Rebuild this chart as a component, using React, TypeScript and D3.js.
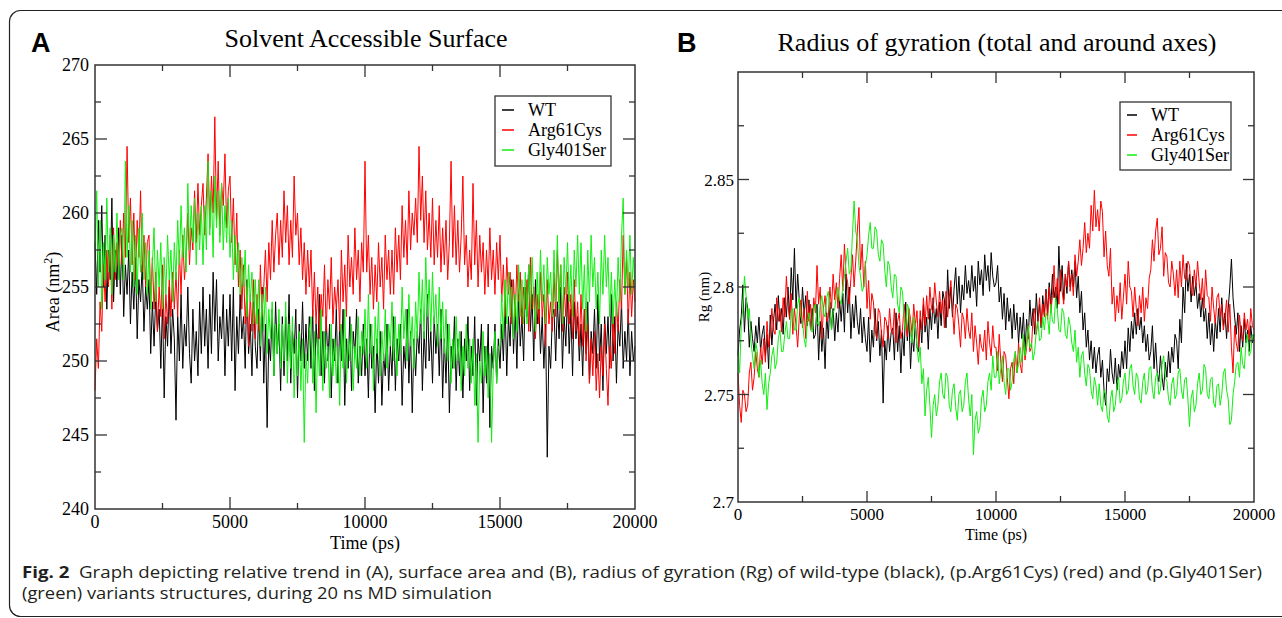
import * as d3 from "d3";
import { useEffect, useRef } from "react";

// simulation length (ps); samples are evenly spaced over it
const SIM_END_PS = 20000;

// Panel A: solvent accessible surface (nm^2)
const SASA_WT = [
  258.0, 254.5, 259.5, 256.0, 260.5, 255.0, 258.5, 253.5, 257.5, 255.5, 261.0, 254.0, 257.5, 255.0, 259.0, 254.5,
  258.5, 253.0, 256.5, 254.5, 257.5, 252.5, 256.0, 253.5, 257.0, 251.5, 255.5, 254.0, 256.5, 252.0, 255.0, 253.5,
  255.5, 250.5, 254.0, 251.0, 254.5, 252.0, 253.5, 249.5, 254.0, 247.5, 253.0, 251.0, 255.0, 250.5, 253.5, 251.5,
  246.0, 253.0, 250.0, 254.5, 249.5, 252.5, 251.0, 255.0, 250.5, 248.5, 253.5, 250.0, 252.0, 249.0, 254.0, 250.5,
  255.0, 251.0, 253.5, 249.5, 254.5, 250.5, 256.0, 252.0, 255.5, 250.0, 253.0, 251.5, 254.5, 249.0, 253.5, 251.0,
  254.5, 250.0, 255.0, 248.0, 253.0, 250.5, 254.5, 251.5, 253.0, 249.5, 255.5, 250.5, 252.5, 249.0, 254.0, 251.0,
  249.5, 253.5, 250.0, 255.0, 248.5, 252.5, 245.5, 251.5, 250.0, 253.5, 249.0, 254.0, 250.5, 252.5, 248.0, 253.0,
  249.0, 253.0, 250.0, 254.5, 248.5, 252.0, 250.5, 253.5, 247.5, 252.5, 250.0, 254.0, 249.5, 252.5, 250.0, 253.0,
  249.5, 253.5, 248.0, 252.5, 250.5, 254.5, 249.0, 252.0, 248.5, 253.0, 250.0, 252.5, 247.5, 251.5, 250.0, 253.5,
  248.5, 252.5, 250.0, 253.5, 247.0, 251.5, 249.5, 253.0, 248.0, 252.0, 250.5, 253.5, 248.5, 251.0, 249.0, 252.5,
  249.0, 251.5, 247.5, 252.5, 249.5, 251.0, 246.5, 251.5, 248.5, 252.0, 247.0, 250.5, 249.0, 252.5, 248.0, 251.0,
  249.0, 253.0, 248.0, 251.5, 250.0, 252.5, 247.0, 251.0, 249.5, 253.5, 248.5, 252.0, 246.5, 251.5, 249.0, 252.0,
  250.5, 253.5, 248.0, 252.0, 249.5, 254.5, 250.0, 252.0, 248.5, 253.0, 250.5, 252.5, 249.0, 253.5, 247.5, 251.5,
  248.5, 252.5, 246.5, 251.0, 249.5, 253.0, 248.0, 251.5, 249.0, 252.0, 247.5, 251.5, 250.0, 253.0, 248.0, 251.0,
  249.0, 253.0, 247.0, 251.5, 250.0, 252.5, 246.5, 251.0, 248.5, 252.5, 245.5, 251.0, 249.5, 252.5, 248.5, 251.5,
  249.5, 252.5, 250.0, 254.0, 249.0, 253.0, 251.0, 255.5, 250.5, 253.5, 249.5, 254.5, 251.0, 253.0, 250.0, 255.0,
  253.0, 256.5, 252.0, 254.5, 250.0, 255.5, 252.5, 254.0, 250.5, 253.0, 249.5, 252.5, 243.5, 251.0, 249.5, 253.0,
  253.5, 250.0, 254.0, 251.5, 255.0, 249.5, 253.0, 251.0, 254.5, 250.5, 253.5, 249.0, 254.0, 251.5, 253.0, 250.0,
  252.5, 249.0, 253.5, 250.5, 254.0, 248.5, 252.0, 250.5, 253.5, 249.5, 254.5, 250.0, 252.5, 248.0, 253.0, 250.5,
  253.0, 249.5, 254.5, 250.0, 253.0, 248.5, 252.5, 251.0, 254.0, 249.5, 252.0, 250.0, 253.5, 249.0, 252.0, 250.0,
  251.0,
];
const SASA_R61C = [
  248.0, 251.5, 249.5, 254.0, 252.0, 256.5, 254.0, 257.5, 255.0, 258.5, 253.5, 259.0, 255.5, 258.0, 256.0, 259.5,
  256.5, 260.0, 257.0, 264.5, 258.0, 261.0, 256.5, 260.0, 255.5, 259.5, 257.0, 261.5, 256.0, 258.5, 255.0, 258.0,
  258.5, 254.0, 257.0, 253.5, 256.0, 252.0, 255.0, 253.0, 256.5, 251.5, 254.5, 252.5, 255.5, 253.0, 256.0, 253.5,
  256.0, 253.0, 257.5, 254.5, 258.5, 255.5, 257.0, 260.0, 256.5, 259.0, 257.5, 261.5, 258.0, 262.0, 258.5, 260.5,
  262.0, 258.5, 261.0, 264.0, 259.0, 262.5, 260.0, 266.5, 259.5, 263.5, 258.5, 262.0, 260.5, 264.0, 259.0, 261.5,
  262.5, 258.0, 261.0, 256.5, 260.0, 255.0, 257.5, 253.5, 256.5, 252.5, 255.0, 251.0, 254.5, 252.0, 255.5, 251.5,
  254.5, 252.0, 256.5, 253.0, 255.0, 257.5, 254.0, 258.0, 255.5, 259.5, 256.0, 258.5, 260.0, 256.5, 259.5, 257.0,
  261.5, 258.0, 260.5, 256.5, 259.5, 257.0, 262.5, 258.5, 260.0, 256.5, 259.0, 255.5, 258.0, 254.5, 257.5, 255.0,
  257.5, 253.0, 256.0, 252.5, 255.0, 251.5, 254.5, 253.0, 256.5, 252.0, 255.5, 253.5, 257.0, 252.5, 255.0, 253.5,
  255.5, 252.0, 257.5, 254.0, 256.5, 253.0, 258.5, 255.0, 257.0, 254.5, 259.0, 255.5, 257.5, 254.0, 258.0, 256.0,
  263.5, 256.0, 258.5, 254.5, 257.0, 253.5, 256.5, 254.0, 258.0, 255.0, 257.0, 253.5, 258.5, 255.5, 257.5, 254.5,
  257.5, 254.5, 259.0, 256.0, 258.5, 255.5, 260.5, 257.0, 259.5, 256.5, 261.5, 257.5, 260.0, 258.5, 261.0, 258.0,
  264.5, 259.5, 262.5, 258.0, 261.5, 257.5, 260.0, 257.0, 261.0, 256.5, 259.5, 257.0, 260.5, 256.0, 259.0, 256.5,
  259.5, 255.5, 258.0, 263.5, 257.0, 260.5, 256.5, 259.5, 256.0, 258.5, 262.5, 256.5, 258.5, 255.0, 257.5, 255.5,
  262.0, 256.5, 259.5, 255.0, 258.5, 256.0, 258.0, 254.5, 257.5, 255.0, 259.0, 255.5, 257.5, 254.5, 258.0, 255.5,
  258.5, 254.0, 256.5, 253.0, 257.0, 254.5, 256.0, 252.5, 255.5, 253.0, 256.5, 254.0, 256.0, 252.5, 255.0, 253.5,
  255.5, 252.0, 257.0, 253.5, 255.0, 251.5, 254.5, 252.5, 256.0, 253.0, 254.5, 251.0, 255.5, 252.5, 254.0, 252.0,
  256.0, 253.0, 257.5, 254.0, 256.5, 252.0, 255.0, 253.0, 256.0, 252.5, 254.5, 251.5, 255.5, 252.0, 254.0, 251.0,
  254.5, 251.0, 253.5, 250.0, 252.5, 248.5, 251.5, 249.0, 252.0, 248.0, 250.5, 247.5, 251.0, 249.0, 252.5, 249.5,
  247.0, 251.0, 249.5, 253.0, 250.5, 254.0, 252.0, 255.5, 253.5, 258.5, 254.5, 257.0, 252.5, 256.0, 253.0, 255.5,
  254.0,
];
const SASA_G401S = [
  257.5, 261.5, 255.0, 259.5, 253.5, 258.0, 255.5, 261.0, 256.0, 259.0, 254.5, 258.5, 256.0, 260.0, 255.5, 258.5,
  259.0, 255.5, 263.5, 257.0, 260.5, 256.0, 259.5, 255.0, 258.5, 254.5, 259.0, 256.0, 260.0, 255.5, 258.0, 254.5,
  257.5, 253.5, 256.5, 259.0, 254.0, 257.5, 255.0, 258.0, 253.5, 257.0, 254.5, 258.5, 255.5, 257.5, 254.0, 258.0,
  255.5, 259.5, 256.5, 260.5, 257.0, 259.0, 256.0, 262.0, 257.5, 260.5, 258.0, 261.0, 256.5, 260.0, 257.5, 260.5,
  256.5, 260.5, 257.5, 263.5, 258.5, 261.5, 257.0, 262.5, 259.0, 261.5, 258.0, 262.0, 257.5, 260.5, 258.0, 261.0,
  257.0, 259.5, 255.5, 258.5, 256.0, 258.0, 254.5, 257.0, 255.0, 257.5, 253.0, 256.5, 254.0, 256.0, 252.5, 255.5,
  252.5, 255.5, 251.0, 254.5, 252.0, 255.0, 250.5, 253.5, 251.5, 254.0, 249.0, 252.5, 250.5, 253.5, 249.5, 252.5,
  250.0, 254.0, 248.5, 252.5, 249.5, 253.0, 247.5, 251.5, 249.0, 252.0, 248.0, 251.5, 244.5, 250.5, 248.5, 252.0,
  253.0, 248.5, 252.0, 246.5, 251.5, 249.0, 253.5, 248.0, 252.0, 249.5, 251.0, 247.5, 252.5, 249.0, 251.5, 248.5,
  251.0, 247.0, 252.5, 249.5, 253.5, 248.5, 251.5, 250.0, 252.5, 248.0, 251.0, 249.5, 253.0, 249.0, 252.0, 250.5,
  253.5, 249.5, 254.5, 250.5, 252.5, 248.0, 253.0, 250.5, 254.0, 249.0, 252.0, 250.0, 253.5, 249.5, 252.5, 251.0,
  254.0, 250.0, 253.0, 249.0, 252.5, 250.5, 255.0, 251.5, 253.5, 250.0, 254.5, 251.0, 253.0, 249.5, 254.0, 251.5,
  256.0, 252.5, 255.5, 251.5, 257.0, 253.0, 255.5, 252.0, 256.0, 252.5, 254.5, 251.0, 255.0, 251.5, 254.0, 250.5,
  253.5, 250.0, 252.5, 248.5, 251.5, 249.5, 253.0, 250.0, 252.0, 248.0, 251.0, 249.0, 252.5, 249.5, 251.5, 248.5,
  251.5, 247.0, 250.5, 244.5, 250.0, 248.5, 252.0, 249.0, 251.0, 247.5, 250.5, 244.5, 249.5, 252.0, 248.5, 251.0,
  251.0, 254.5, 251.5, 255.5, 252.5, 256.0, 253.0, 255.0, 251.5, 254.5, 252.0, 256.5, 253.0, 255.5, 252.5, 256.0,
  252.5, 256.5, 253.5, 257.0, 254.0, 252.0, 256.0, 253.5, 257.5, 254.0, 256.5, 252.5, 257.0, 254.5, 256.0, 253.0,
  257.5, 254.0, 258.5, 253.5, 256.5, 252.5, 257.0, 254.5, 258.0, 254.0, 256.5, 253.0, 257.5, 255.0, 258.5, 254.5,
  258.0, 253.5, 256.5, 252.0, 257.5, 254.0, 258.5, 255.0, 257.0, 253.5, 256.0, 252.5, 257.5, 254.5, 258.5, 255.0,
  257.0, 253.0, 256.0, 252.5, 255.5, 253.0, 257.0, 254.0, 258.5, 261.0, 254.5, 257.5, 255.0, 258.5, 254.5, 257.0,
  255.0,
];

// Panel B: radius of gyration (nm)
const RG_WT = [
  2.768, 2.780, 2.786, 2.801, 2.779, 2.795, 2.790, 2.772, 2.784, 2.776, 2.770, 2.782, 2.774, 2.786, 2.770, 2.778,
  2.782, 2.768, 2.778, 2.762, 2.787, 2.773, 2.784, 2.792, 2.780, 2.796, 2.784, 2.790, 2.778, 2.795, 2.786, 2.800,
  2.785, 2.809, 2.794, 2.818, 2.790, 2.806, 2.794, 2.783, 2.800, 2.787, 2.796, 2.782, 2.794, 2.780, 2.790, 2.776,
  2.778, 2.792, 2.766, 2.784, 2.770, 2.781, 2.762, 2.788, 2.776, 2.793, 2.780, 2.790, 2.775, 2.788, 2.779, 2.794,
  2.784, 2.797, 2.779, 2.806, 2.788, 2.800, 2.776, 2.792, 2.781, 2.796, 2.784, 2.778, 2.790, 2.774, 2.786, 2.776,
  2.770, 2.786, 2.765, 2.780, 2.772, 2.790, 2.775, 2.784, 2.768, 2.780, 2.746, 2.775, 2.766, 2.782, 2.770, 2.779,
  2.781, 2.766, 2.788, 2.770, 2.782, 2.760, 2.779, 2.768, 2.793, 2.775, 2.786, 2.762, 2.778, 2.770, 2.784, 2.772,
  2.770, 2.785, 2.774, 2.792, 2.779, 2.786, 2.771, 2.790, 2.780, 2.795, 2.783, 2.790, 2.776, 2.793, 2.782, 2.798,
  2.794, 2.781, 2.808, 2.790, 2.800, 2.786, 2.799, 2.809, 2.792, 2.805, 2.788, 2.801, 2.794, 2.810, 2.797, 2.803,
  2.795, 2.810, 2.798, 2.805, 2.791, 2.812, 2.801, 2.808, 2.796, 2.815, 2.803, 2.810, 2.798, 2.816, 2.805, 2.800,
  2.802, 2.810, 2.793, 2.800, 2.785, 2.797, 2.780, 2.795, 2.784, 2.790, 2.776, 2.792, 2.780, 2.788, 2.774, 2.786,
  2.776, 2.788, 2.770, 2.785, 2.776, 2.794, 2.782, 2.790, 2.778, 2.797, 2.784, 2.792, 2.781, 2.796, 2.787, 2.799,
  2.788, 2.802, 2.791, 2.806, 2.795, 2.800, 2.790, 2.819, 2.798, 2.810, 2.794, 2.806, 2.797, 2.812, 2.800, 2.808,
  2.800, 2.812, 2.795, 2.805, 2.788, 2.798, 2.780, 2.788, 2.772, 2.780, 2.766, 2.775, 2.762, 2.772, 2.760, 2.768,
  2.772, 2.758, 2.766, 2.752, 2.745, 2.762, 2.756, 2.771, 2.760, 2.755, 2.767, 2.752, 2.764, 2.758, 2.770, 2.762,
  2.775, 2.762, 2.781, 2.770, 2.784, 2.776, 2.788, 2.778, 2.790, 2.780, 2.786, 2.774, 2.782, 2.770, 2.778, 2.766,
  2.770, 2.782, 2.762, 2.774, 2.760, 2.756, 2.768, 2.758, 2.752, 2.765, 2.758, 2.770, 2.760, 2.772, 2.765, 2.778,
  2.775, 2.762, 2.785, 2.774, 2.800, 2.788, 2.811, 2.798, 2.806, 2.793, 2.805, 2.796, 2.802, 2.790, 2.797, 2.786,
  2.795, 2.784, 2.790, 2.776, 2.788, 2.773, 2.783, 2.770, 2.785, 2.776, 2.790, 2.779, 2.795, 2.782, 2.788, 2.776,
  2.790, 2.800, 2.813, 2.795, 2.786, 2.778, 2.788, 2.770, 2.782, 2.772, 2.785, 2.774, 2.780, 2.770, 2.782, 2.774,
  2.778,
];
const RG_R61C = [
  2.760, 2.745, 2.737, 2.752, 2.750, 2.742, 2.745, 2.760, 2.765, 2.752, 2.758, 2.770, 2.762, 2.758, 2.772, 2.764,
  2.776, 2.765, 2.784, 2.772, 2.778, 2.790, 2.780, 2.778, 2.795, 2.784, 2.790, 2.779, 2.795, 2.786, 2.805, 2.792,
  2.785, 2.797, 2.778, 2.790, 2.782, 2.772, 2.786, 2.794, 2.781, 2.790, 2.776, 2.798, 2.784, 2.792, 2.780, 2.795,
  2.788, 2.810, 2.792, 2.800, 2.776, 2.790, 2.796, 2.784, 2.786, 2.800, 2.790, 2.806, 2.794, 2.802, 2.790, 2.804,
  2.815, 2.798, 2.820, 2.806, 2.802, 2.792, 2.804, 2.815, 2.800, 2.812, 2.826, 2.837, 2.808, 2.820, 2.800, 2.812,
  2.790, 2.803, 2.785, 2.797, 2.793, 2.780, 2.776, 2.790, 2.788, 2.778, 2.772, 2.786, 2.784, 2.776, 2.790, 2.780,
  2.778, 2.790, 2.774, 2.784, 2.788, 2.776, 2.780, 2.792, 2.784, 2.777, 2.790, 2.785, 2.778, 2.792, 2.782, 2.789,
  2.772, 2.789, 2.780, 2.795, 2.782, 2.796, 2.785, 2.800, 2.790, 2.788, 2.802, 2.793, 2.786, 2.798, 2.788, 2.794,
  2.781, 2.798, 2.786, 2.795, 2.803, 2.790, 2.778, 2.792, 2.790, 2.782, 2.772, 2.788, 2.785, 2.776, 2.790, 2.780,
  2.776, 2.788, 2.770, 2.782, 2.774, 2.764, 2.778, 2.772, 2.770, 2.780, 2.766, 2.784, 2.774, 2.768, 2.782, 2.772,
  2.772, 2.761, 2.778, 2.765, 2.756, 2.770, 2.768, 2.758, 2.748, 2.762, 2.765, 2.755, 2.770, 2.760, 2.774, 2.764,
  2.760, 2.776, 2.766, 2.772, 2.782, 2.770, 2.772, 2.786, 2.790, 2.778, 2.784, 2.795, 2.782, 2.792, 2.786, 2.798,
  2.785, 2.800, 2.788, 2.796, 2.810, 2.794, 2.804, 2.792, 2.808, 2.798, 2.792, 2.806, 2.800, 2.812, 2.798, 2.806,
  2.796, 2.815, 2.805, 2.812, 2.822, 2.810, 2.818, 2.830, 2.816, 2.825, 2.818, 2.838, 2.826, 2.845, 2.828, 2.836,
  2.826, 2.840, 2.835, 2.814, 2.826, 2.810, 2.805, 2.818, 2.792, 2.800, 2.784, 2.796, 2.788, 2.802, 2.785, 2.795,
  2.806, 2.792, 2.812, 2.800, 2.798, 2.786, 2.800, 2.790, 2.782, 2.796, 2.788, 2.800, 2.784, 2.795, 2.790, 2.804,
  2.808, 2.822, 2.812, 2.826, 2.832, 2.815, 2.818, 2.828, 2.805, 2.816, 2.814, 2.802, 2.800, 2.812, 2.806, 2.796,
  2.808, 2.795, 2.812, 2.800, 2.815, 2.804, 2.803, 2.812, 2.810, 2.798, 2.796, 2.808, 2.800, 2.812, 2.802, 2.794,
  2.804, 2.790, 2.808, 2.796, 2.795, 2.784, 2.800, 2.790, 2.783, 2.795, 2.797, 2.786, 2.792, 2.780, 2.786, 2.794,
  2.779, 2.792, 2.772, 2.760, 2.782, 2.774, 2.770, 2.787, 2.778, 2.775, 2.788, 2.780, 2.785, 2.775, 2.790, 2.782,
  2.780,
];
const RG_G401S = [
  2.770, 2.760, 2.782, 2.790, 2.805, 2.796, 2.785, 2.790, 2.775, 2.768, 2.762, 2.774, 2.770, 2.758, 2.766, 2.755,
  2.750, 2.760, 2.743, 2.755, 2.760, 2.768, 2.772, 2.762, 2.765, 2.776, 2.780, 2.770, 2.770, 2.778, 2.784, 2.776,
  2.776, 2.788, 2.790, 2.780, 2.780, 2.792, 2.795, 2.786, 2.784, 2.776, 2.772, 2.784, 2.788, 2.780, 2.779, 2.790,
  2.792, 2.784, 2.782, 2.792, 2.796, 2.788, 2.786, 2.795, 2.798, 2.790, 2.780, 2.788, 2.790, 2.796, 2.800, 2.794,
  2.792, 2.800, 2.805, 2.812, 2.818, 2.806, 2.808, 2.825, 2.840, 2.826, 2.822, 2.810, 2.805, 2.798, 2.800, 2.810,
  2.815, 2.824, 2.830, 2.818, 2.818, 2.828, 2.826, 2.815, 2.812, 2.822, 2.820, 2.808, 2.800, 2.812, 2.810, 2.800,
  2.795, 2.806, 2.805, 2.792, 2.788, 2.800, 2.798, 2.786, 2.780, 2.792, 2.790, 2.778, 2.774, 2.786, 2.782, 2.772,
  2.765, 2.772, 2.755, 2.762, 2.740, 2.752, 2.758, 2.745, 2.730, 2.745, 2.750, 2.740, 2.745, 2.756, 2.760, 2.750,
  2.748, 2.760, 2.758, 2.745, 2.742, 2.752, 2.755, 2.744, 2.738, 2.750, 2.752, 2.742, 2.745, 2.756, 2.760, 2.748,
  2.740, 2.750, 2.722, 2.738, 2.742, 2.732, 2.735, 2.748, 2.752, 2.742, 2.745, 2.756, 2.760, 2.752, 2.768, 2.758,
  2.758, 2.770, 2.755, 2.762, 2.768, 2.756, 2.750, 2.762, 2.762, 2.752, 2.756, 2.766, 2.770, 2.760, 2.764, 2.772,
  2.765, 2.778, 2.768, 2.774, 2.782, 2.772, 2.774, 2.766, 2.770, 2.780, 2.784, 2.775, 2.776, 2.786, 2.780, 2.788,
  2.786, 2.778, 2.792, 2.784, 2.783, 2.795, 2.790, 2.780, 2.779, 2.790, 2.788, 2.778, 2.776, 2.786, 2.782, 2.774,
  2.770, 2.780, 2.765, 2.772, 2.758, 2.768, 2.770, 2.760, 2.754, 2.764, 2.762, 2.752, 2.748, 2.758, 2.754, 2.745,
  2.755, 2.745, 2.742, 2.752, 2.750, 2.740, 2.737, 2.748, 2.752, 2.742, 2.745, 2.755, 2.758, 2.746, 2.748, 2.756,
  2.760, 2.750, 2.752, 2.762, 2.764, 2.754, 2.750, 2.760, 2.758, 2.748, 2.746, 2.756, 2.760, 2.750, 2.752, 2.762,
  2.763, 2.752, 2.748, 2.758, 2.760, 2.750, 2.752, 2.764, 2.768, 2.758, 2.756, 2.748, 2.745, 2.755, 2.758, 2.748,
  2.750, 2.760, 2.762, 2.752, 2.748, 2.757, 2.758, 2.748, 2.735, 2.748, 2.752, 2.742, 2.745, 2.755, 2.760, 2.750,
  2.752, 2.764, 2.762, 2.750, 2.748, 2.757, 2.758, 2.746, 2.744, 2.754, 2.755, 2.745, 2.750, 2.760, 2.762, 2.752,
  2.748, 2.736, 2.738, 2.750, 2.756, 2.764, 2.765, 2.758, 2.772, 2.764, 2.762, 2.774, 2.778, 2.768, 2.770, 2.778,
  2.775,
];

const SERIES_NAMES = ["WT", "Arg61Cys", "Gly401Ser"];
const SERIES_COLORS = ["#000000", "#ff0000", "#11ee11"];

const TIME_TICKS = [0, 5000, 10000, 15000, 20000];
const SASA_TICKS = [240, 245, 250, 255, 260, 265, 270];
const RG_TICKS = [2.7, 2.75, 2.8, 2.85];

const SERIF = "'Liberation Serif', 'Times New Roman', serif";

function drawPanel(svg, p) {
  const x = d3.scaleLinear().domain([0, SIM_END_PS]).range([p.left, p.right]);
  const y = d3.scaleLinear().domain(p.yDomain).range([p.bottom, p.top]);

  const g = svg.append("g");

  // traces, WT first so the variants sit on top
  p.series.forEach((vals, k) => {
    const line = d3
      .line()
      .x((_, i) => x((i / (vals.length - 1)) * SIM_END_PS))
      .y(d => y(d));
    g.append("path")
      .attr("d", line(vals))
      .attr("fill", "none")
      .attr("stroke", SERIES_COLORS[k])
      .attr("stroke-width", 1)
      .attr("stroke-linejoin", "round");
  });

  // frame
  g.append("rect")
    .attr("x", p.left)
    .attr("y", p.top)
    .attr("width", p.right - p.left)
    .attr("height", p.bottom - p.top)
    .attr("fill", "none")
    .attr("stroke", "#333")
    .attr("stroke-width", 1.5);

  // inward ticks on all four sides
  const xMajor = TIME_TICKS.slice(1, -1);
  const xMinor = d3.range(2500, SIM_END_PS, 5000);

  const tick = (x1, y1, x2, y2) =>
    g.append("line")
      .attr("x1", x1).attr("y1", y1).attr("x2", x2).attr("y2", y2)
      .attr("stroke", "#333").attr("stroke-width", 1.3);

  xMajor.forEach(t => {
    tick(x(t), p.bottom, x(t), p.bottom - p.majorLen);
    tick(x(t), p.top, x(t), p.top + p.majorLen);
  });
  xMinor.forEach(t => {
    tick(x(t), p.bottom, x(t), p.bottom - p.minorLen);
    tick(x(t), p.top, x(t), p.top + p.minorLen);
  });
  p.yMajor.forEach(v => {
    tick(p.left, y(v), p.left + p.majorLen, y(v));
    tick(p.right, y(v), p.right - p.majorLen, y(v));
  });
  p.yMinor.forEach(v => {
    tick(p.left, y(v), p.left + p.minorLen, y(v));
    tick(p.right, y(v), p.right - p.minorLen, y(v));
  });

  // tick labels
  g.selectAll(".xl")
    .data(TIME_TICKS)
    .enter()
    .append("text")
    .attr("x", d => x(d))
    .attr("y", p.bottom + p.xLabelDy)
    .attr("text-anchor", "middle")
    .style("font-family", SERIF)
    .style("font-size", `${p.tickFont}px`)
    .text(d => d);

  g.selectAll(".yl")
    .data(p.yLabels)
    .enter()
    .append("text")
    .attr("x", p.left - p.yLabelGap)
    .attr("y", d => y(d) + 6)
    .attr("text-anchor", "end")
    .style("font-family", SERIF)
    .style("font-size", `${p.tickFont}px`)
    .text(d => String(d));

  // axis titles
  g.append("text")
    .attr("x", (p.left + p.right) / 2)
    .attr("y", p.bottom + p.xTitleDy)
    .attr("text-anchor", "middle")
    .style("font-family", SERIF)
    .style("font-size", `${p.titleFont}px`)
    .text("Time (ps)");

  const yt = g.append("text")
    .attr("transform", `translate(${p.yTitleX},${p.yTitleY}) rotate(-90)`)
    .attr("text-anchor", "middle")
    .style("font-family", SERIF)
    .style("font-size", `${p.yTitleFont}px`);
  yt.append("tspan").text(p.yTitle);
  if (p.yTitleSup) {
    yt.append("tspan").attr("dy", -7).style("font-size", "12px").text(p.yTitleSup);
    yt.append("tspan").attr("dy", 7).text(")");
  }

  // chart title
  g.append("text")
    .attr("x", p.titleX)
    .attr("y", p.titleY)
    .attr("text-anchor", "middle")
    .style("font-family", SERIF)
    .style("font-size", "26px")
    .text(p.title);

  // panel letter
  g.append("text")
    .attr("x", p.letterX)
    .attr("y", 52)
    .style("font-family", "'Liberation Sans', Arial, sans-serif")
    .style("font-weight", "bold")
    .style("font-size", "27px")
    .text(p.letter);

  // legend
  const lg = p.legend;
  g.append("rect")
    .attr("x", lg.x)
    .attr("y", lg.y)
    .attr("width", lg.w)
    .attr("height", lg.h)
    .attr("fill", "#fff")
    .attr("stroke", "#333")
    .attr("stroke-width", 1.3);

  SERIES_NAMES.forEach((name, k) => {
    const cy = lg.y + lg.firstRow + k * lg.rowGap;
    g.append("line")
      .attr("x1", lg.x + 7)
      .attr("x2", lg.x + 7 + lg.swatch)
      .attr("y1", cy)
      .attr("y2", cy)
      .attr("stroke", SERIES_COLORS[k])
      .attr("stroke-width", 1.5);
    g.append("text")
      .attr("x", lg.x + lg.textDx)
      .attr("y", cy + 6)
      .style("font-family", SERIF)
      .style("font-size", "18px")
      .text(name);
  });
}

function App() {
  const ref = useRef(null);

  useEffect(() => {
    const svg = d3.select(ref.current);
    svg.selectAll("*").remove();

    svg.append("rect").attr("width", 1282).attr("height", 618).attr("fill", "#fff");

    // outer figure frame with rounded corners
    svg.append("rect")
      .attr("x", 9.5)
      .attr("y", 10.5)
      .attr("width", 1320)
      .attr("height", 606)
      .attr("rx", 11)
      .attr("fill", "none")
      .attr("stroke", "#222")
      .attr("stroke-width", 1.2);

    drawPanel(svg, {
      left: 95, right: 635, top: 65, bottom: 509,
      yDomain: [240, 270],
      yMajor: [245, 250, 255, 260, 265],
      yMinor: d3.range(242.5, 270, 5),
      yLabels: SASA_TICKS,
      majorLen: 12, minorLen: 6,
      tickFont: 18, titleFont: 18, yTitleFont: 18, xLabelDy: 19, xTitleDy: 40, yLabelGap: 6,
      series: [SASA_WT, SASA_R61C, SASA_G401S],
      title: "Solvent Accessible Surface",
      titleX: 366, titleY: 47,
      letter: "A", letterX: 31,
      yTitle: "Area (nm", yTitleSup: "2",
      yTitleX: 59, yTitleY: 292,
      legend: { x: 495, y: 96, w: 116, h: 70, firstRow: 14, rowGap: 20, swatch: 12, textDx: 33 },
    });

    drawPanel(svg, {
      left: 738, right: 1254, top: 72, bottom: 502,
      yDomain: [2.7, 2.9],
      yMajor: [2.75, 2.8, 2.85],
      yMinor: [2.725, 2.775, 2.825, 2.875],
      yLabels: RG_TICKS,
      majorLen: 11, minorLen: 6,
      tickFont: 17, titleFont: 16, yTitleFont: 15, xLabelDy: 18, xTitleDy: 38, yLabelGap: 4,
      series: [RG_WT, RG_R61C, RG_G401S],
      title: "Radius of gyration (total and around axes)",
      titleX: 997, titleY: 51,
      letter: "B", letterX: 677,
      yTitle: "Rg (nm)", yTitleSup: null,
      yTitleX: 709, yTitleY: 297,
      legend: { x: 1120, y: 102, w: 111, h: 68, firstRow: 13, rowGap: 20, swatch: 10, textDx: 31 },
    });

    // caption
    const cap = svg.append("g")
      .style("font-family", "'Open Sans', 'Noto Sans', sans-serif")
      .style("fill", "#231f20");
    const l1 = cap.append("text")
      .attr("x", 22)
      .attr("y", 578)
      .attr("textLength", 1240)
      .attr("lengthAdjust", "spacingAndGlyphs")
      .style("font-size", "16.5px");
    l1.append("tspan").style("font-weight", "bold").text("Fig. 2");
    l1.append("tspan").text("\u00a0 Graph depicting relative trend in (A), surface area and (B), radius of gyration (Rg) of wild-type (black), (p.Arg61Cys) (red) and (p.Gly401Ser)");
    cap.append("text")
      .attr("x", 22)
      .attr("y", 599)
      .attr("textLength", 470)
      .attr("lengthAdjust", "spacingAndGlyphs")
      .style("font-size", "16.5px")
      .text("(green) variants structures, during 20 ns MD simulation");
  }, []);

  return (
    <svg
      ref={ref}
      width={1282}
      height={618}
      style={{ position: "absolute", left: 0, top: 0, display: "block" }}
    />
  );
}

export default App;
